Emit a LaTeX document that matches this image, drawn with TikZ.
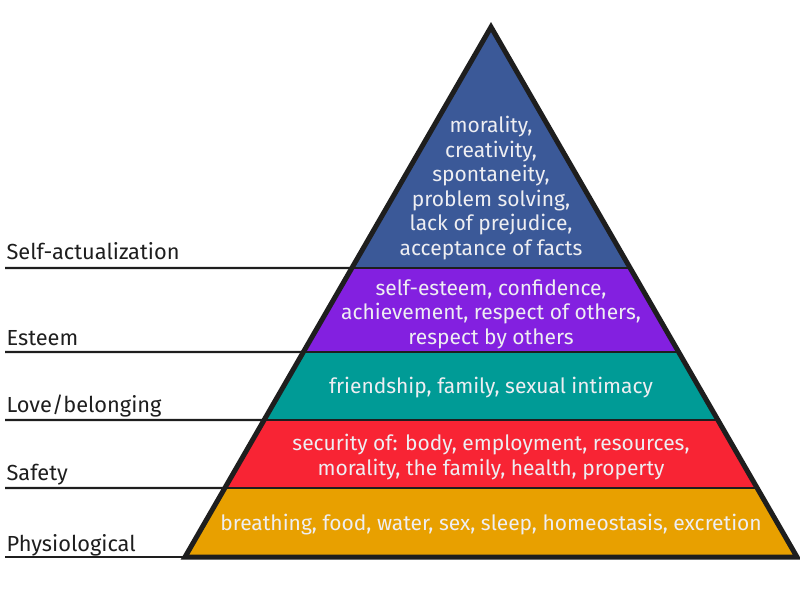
\documentclass[tikz,border=0pt]{standalone}
\usepackage{fontspec}
\setmainfont{Fira Sans}
\usetikzlibrary{calc,positioning}
\definecolor{selfblue}{RGB}{59,89,152}
\definecolor{esteempurple}{RGB}{131,32,224}
\definecolor{loveteal}{RGB}{0,155,150}
\definecolor{safetyred}{RGB}{248,36,52}
\definecolor{physorange}{RGB}{232,160,0}
\definecolor{ink}{RGB}{30,30,30}
\definecolor{paletext}{RGB}{238,238,242}
\tikzset{
  bandtext/.style={text=paletext, align=center, font=\fontsize{21}{24.5}\selectfont},
  leveltext/.style={text=ink, anchor=base west, font=\fontsize{21.8}{26}\selectfont},
  levelline/.style={draw=ink, line width=2.4pt},
}

\begin{document}
\begin{tikzpicture}[x=1pt,y=-1pt]
\useasboundingbox (0,0) rectangle (800,600);
\coordinate (apex) at (491,27);
\coordinate (baseL) at (185,557);
\coordinate (baseR) at (797,557);
\coordinate (l1) at ($(apex)!0.4547!(baseL)$);
\coordinate (r1) at ($(apex)!0.4547!(baseR)$);
\coordinate (l2) at ($(apex)!0.6132!(baseL)$);
\coordinate (r2) at ($(apex)!0.6132!(baseR)$);
\coordinate (l3) at ($(apex)!0.7415!(baseL)$);
\coordinate (r3) at ($(apex)!0.7415!(baseR)$);
\coordinate (l4) at ($(apex)!0.8698!(baseL)$);
\coordinate (r4) at ($(apex)!0.8698!(baseR)$);

\fill[selfblue] (apex) -- (l1) -- (r1) -- cycle;
\fill[esteempurple] (l1) -- (l2) -- (r2) -- (r1) -- cycle;
\fill[loveteal] (l2) -- (l3) -- (r3) -- (r2) -- cycle;
\fill[safetyred] (l3) -- (l4) -- (r4) -- (r3) -- cycle;
\fill[physorange] (l4) -- (baseL) -- (baseR) -- (r4) -- cycle;
\draw[ink, line width=2pt] (l1) -- (r1);
\draw[ink, line width=2pt] (l2) -- (r2);
\draw[ink, line width=2pt] (l3) -- (r3);
\draw[ink, line width=2pt] (l4) -- (r4);
\draw[ink, line width=5pt, line join=miter] (apex) -- (baseL) -- (baseR) -- cycle;

\coordinate (m1) at (5,268);
\coordinate (m2) at (5,352);
\coordinate (m3) at (5,420);
\coordinate (m4) at (5,488);
\coordinate (m5) at (5,557);
\draw[levelline] (m1) -- (l1);
\draw[levelline] (m2) -- (l2);
\draw[levelline] (m3) -- (l3);
\draw[levelline] (m4) -- (l4);
\draw[levelline] (m5) -- (baseL);

\node[leveltext] (selfact) at (3,259) {Self-actualization};
\node[leveltext] (esteem) at (3,345) {Esteem};
\node[leveltext] (love) at (3,412) {Love/belonging};
\node[leveltext] (safety) at (3,480) {Safety};
\node[leveltext] (physio) at (3,551) {Physiological};

\node[bandtext] (selftext) at (491,188) {morality,\\creativity,\\spontaneity,\\problem solving,\\lack of prejudice,\\acceptance of facts};
\node[bandtext] (esteemtext) at (491,314) {self-esteem, confidence,\\achievement, respect of others,\\respect by others};
\node[bandtext] (lovetext) at (491,388) {friendship, family, sexual intimacy};
\node[bandtext] (safetytext) at (491,457) {security of: body, employment, resources,\\morality, the family, health, property};
\node[bandtext] (physiotext) at (491,525) {breathing, food, water, sex, sleep, homeostasis, excretion};
\end{tikzpicture}
\end{document}
